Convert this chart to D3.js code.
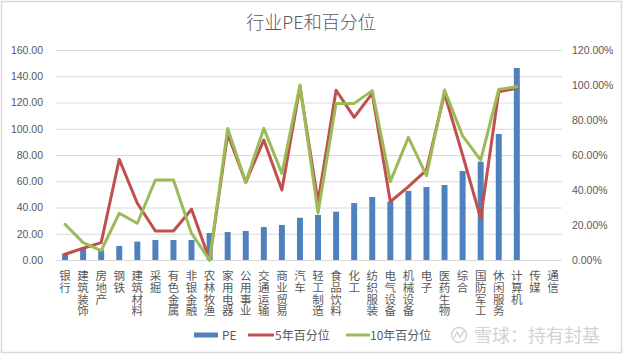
<!DOCTYPE html>
<html><head><meta charset="utf-8">
<script src="https://cdn.jsdelivr.net/npm/d3@7"></script>
<style>
html,body{margin:0;padding:0;background:#fff;}
svg{display:block;}
.vlabel{writing-mode:vertical-rl;text-orientation:upright;}
</style></head>
<body>
<svg id="chart" width="624" height="356"></svg>
<script>
const categories = ["银行","建筑装饰","房地产","钢铁","建筑材料","采掘","有色金属","非银金融","农林牧渔","家用电器","公用事业","交通运输","商业贸易","汽车","轻工制造","食品饮料","化工","纺织服装","电气设备","机械设备","电子","医药生物","综合","国防军工","休闲服务","计算机","传媒","通信"];
const pe = [5.0, 8.9, 7.6, 10.7, 14.0, 15.2, 15.2, 15.2, 20.6, 21.3, 22.1, 25.1, 26.7, 32.2, 34.3, 36.8, 43.4, 48.0, 44.5, 52.6, 55.6, 57.1, 67.8, 74.9, 96.0, 146.3, null, null];
const pct5 = [3.3, 6.7, 9.9, 57.5, 32.4, 16.6, 16.6, 29.0, 0, 72.0, 44.4, 68.6, 40.0, 99.0, 33.3, 97.0, 81.5, 95.2, 33.3, 41.9, 51.4, 95.2, 60.0, 23.8, 96.2, 98.1, null, null];
const pct10 = [20.4, 9.9, 5.3, 26.7, 21.0, 45.7, 45.7, 15.2, 0, 75.2, 44.4, 75.2, 49.5, 100, 26.9, 89.5, 89.5, 96.8, 44.8, 70.1, 48.2, 97.1, 70.9, 57.1, 97.5, 99.0, null, null];
const leftTicks = [0, 20, 40, 60, 80, 100, 120, 140, 160];
const rightTicks = [0, 20, 40, 60, 80, 100, 120];
const title = "行业PE和百分位";
const seriesNames = ["PE", "5年百分位", "10年百分位"];
const watermark = "雪球：持有封基";

const svg = d3.select("#chart");
const W = 624, H = 356;
const plot = {left: 56, right: 562, top: 50, bottom: 260};
const cjk = "'Noto Sans CJK SC','Noto Sans',sans-serif";
const num = "'Liberation Sans',Arial,sans-serif";
const textColor = "#595959";
const colors = {pe: "#4F81BD", p5: "#C0504D", p10: "#9BBB59"};

svg.append("rect").attr("width", W).attr("height", H).attr("fill", "#fff");
svg.append("rect").attr("x", 1.5).attr("y", 1.5).attr("width", 620).attr("height", 351)
  .attr("fill", "none").attr("stroke", "#d9d9d9").attr("stroke-width", 1.5);

const x = d3.scaleBand().domain(categories).range([plot.left, plot.right])
  .paddingInner(0.67).paddingOuter(0.335);
const yL = d3.scaleLinear().domain([0, 160]).range([plot.bottom, plot.top]);
const yR = d3.scaleLinear().domain([0, 120]).range([plot.bottom, plot.top]);

// gridlines
const grid = svg.append("g").attr("transform", `translate(${plot.left},0)`)
  .call(d3.axisLeft(yL).tickValues(leftTicks).tickSize(-(plot.right - plot.left)).tickFormat(""));
grid.select(".domain").remove();
grid.selectAll("line").attr("stroke", "#d9d9d9").attr("stroke-width", 1);

// left axis
const ax = svg.append("g").attr("transform", `translate(43,0)`)
  .call(d3.axisLeft(yL).tickValues(leftTicks).tickSize(0).tickPadding(0).tickFormat(d3.format(".2f")));
ax.select(".domain").remove();
ax.selectAll("text").attr("font-family", num).attr("font-size", 10.5).attr("fill", textColor);

// right axis
const axR = svg.append("g").attr("transform", `translate(572,0)`)
  .call(d3.axisRight(yR).tickValues(rightTicks).tickSize(0).tickPadding(0).tickFormat(d => d.toFixed(2) + "%"));
axR.select(".domain").remove();
axR.selectAll("text").attr("font-family", num).attr("font-size", 10.5).attr("fill", textColor);

// x axis labels (vertical, upright characters)
const axX = svg.append("g").attr("transform", `translate(0,${plot.bottom})`)
  .call(d3.axisBottom(x).tickSize(0).tickPadding(0));
axX.select(".domain").remove();
axX.selectAll(".tick text")
  .attr("class", "vlabel")
  .attr("x", 0).attr("y", 10).attr("dy", null)
  .attr("text-anchor", "start")
  .attr("font-family", cjk).attr("font-size", 11.5).attr("letter-spacing", 0.2)
  .attr("fill", textColor);

// bars
svg.append("g").selectAll("rect").data(categories.map((c, i) => ({c, v: pe[i]})).filter(d => d.v != null))
  .join("rect")
  .attr("x", d => x(d.c)).attr("width", x.bandwidth())
  .attr("y", d => yL(d.v)).attr("height", d => yL(0) - yL(d.v))
  .attr("fill", colors.pe);

// lines
const line = d3.line().defined(d => d.v != null)
  .x(d => x(d.c) + x.bandwidth() / 2).y(d => yR(d.v));
[[pct5, colors.p5], [pct10, colors.p10]].forEach(([arr, col]) => {
  svg.append("path").datum(categories.map((c, i) => ({c, v: arr[i]})))
    .attr("d", line).attr("fill", "none").attr("stroke", col)
    .attr("stroke-width", 3).attr("stroke-linejoin", "round").attr("stroke-linecap", "round");
});

// title
svg.append("text").attr("x", 311).attr("y", 29).attr("text-anchor", "middle")
  .attr("font-family", cjk).attr("font-weight", 300).attr("font-size", 18).attr("fill", textColor)
  .text(title);

// legend
const lg = svg.append("g").attr("font-family", cjk).attr("font-size", 12).attr("fill", textColor);
lg.append("rect").attr("x", 194).attr("y", 332.5).attr("width", 24).attr("height", 5).attr("fill", colors.pe);
lg.append("text").attr("x", 222).attr("y", 340).text(seriesNames[0]);
lg.append("line").attr("x1", 248).attr("x2", 274).attr("y1", 335).attr("y2", 335)
  .attr("stroke", colors.p5).attr("stroke-width", 3);
lg.append("text").attr("x", 275).attr("y", 340).text(seriesNames[1]);
lg.append("line").attr("x1", 346).attr("x2", 370).attr("y1", 335).attr("y2", 335)
  .attr("stroke", colors.p10).attr("stroke-width", 3);
lg.append("text").attr("x", 370).attr("y", 340).text(seriesNames[2]);

// watermark
const wm = svg.append("g").attr("opacity", 0.9);
wm.append("circle").attr("cx", 459).attr("cy", 335).attr("r", 7.5)
  .attr("fill", "none").attr("stroke", "#cfcfcf").attr("stroke-width", 1.5);
wm.append("path").attr("d", "M454,338 L457,332 L460,337 L464,331")
  .attr("fill", "none").attr("stroke", "#cfcfcf").attr("stroke-width", 1.5);
wm.append("text").attr("x", 474).attr("y", 341.5).attr("font-family", cjk)
  .attr("font-size", 18).attr("fill", "#cfcfcf").text(watermark);
</script>
</body></html>
